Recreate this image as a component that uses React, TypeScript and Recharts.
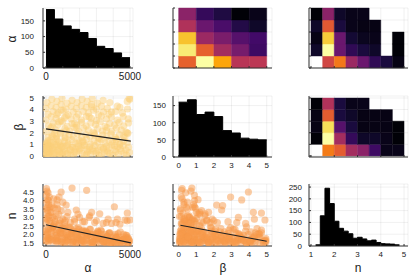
import React from "react";
import {
  ComposedChart, Area, Scatter, XAxis, YAxis, CartesianGrid, ReferenceArea,
} from "recharts";

const FONT = "'Liberation Sans', Arial, sans-serif";
const INK = "#222";
const AX = "#333";

/* -------- 1-D histograms: bin edges + counts -------- */
const alphaEdges = [0, 500, 1000, 1500, 2000, 2500, 3000, 3500, 4000, 4500, 5000];
const alphaCounts = [186, 156, 134, 123, 113, 94, 69, 62, 48, 33];
const betaEdges = [0, 0.5, 1, 1.5, 2, 2.5, 3, 3.5, 4, 4.5, 5];
const betaCounts = [160, 167, 124, 131, 118, 77, 70, 55, 52, 50];
const nEdges = [1.2, 1.4, 1.6, 1.8, 2, 2.2, 2.4, 2.6, 2.8, 3, 3.2, 3.4, 3.6, 3.8, 4, 4.2, 4.4, 4.6, 4.8];
const nCounts = [5, 128, 245, 180, 105, 75, 63, 52, 33, 37, 30, 22, 25, 15, 10, 9, 8, 5];

/* -------- 2-D histogram bins + relative density (rows bottom -> top, null = empty) -------- */
const alphaBins = [0, 1000, 2000, 3000, 4000, 5000];
const betaBins = [0, 1, 2, 3, 4, 5];
const nBins = [1, 1.5, 2, 2.5, 3, 3.5, 4, 4.5, 5];

const hAlphaBeta = [
  [0.64, 1.0, 0.8, 0.49, 0.5],
  [0.95, 0.64, 0.44, 0.33, 0.19],
  [0.86, 0.42, 0.34, 0.25, 0.2],
  [0.47, 0.3, 0.22, 0.13, 0.07],
  [0.38, 0.17, 0.12, 0.005, 0.04],
];
const hAlphaN = [
  [null, 0.56, 0.7, 0.42, 0.3, 0.16, 0.11, 0.03],
  [0.07, 1.0, 0.3, 0.16, 0.11, 0.07, null, 0.005],
  [0.03, 0.88, 0.3, 0.09, 0.05, 0.04, null, 0.005],
  [0.07, 0.62, 0.11, 0.04, 0.03, 0.03, null, null],
  [0.005, 0.38, 0.07, 0.04, 0.04, null, null, null],
];
const hBetaN = [
  [null, 0.71, 0.63, 0.44, 0.38, 0.19, 0.04, 0.04],
  [0.005, 1.0, 0.44, 0.17, 0.07, 0.07, 0.04, 0.005],
  [0.03, 0.92, 0.25, 0.11, 0.03, 0.03, 0.03, 0.005],
  [0.03, 0.63, 0.11, 0.07, 0.03, 0.03, 0.03, null],
  [0.005, 0.47, 0.11, 0.04, 0.04, null, null, null],
];

/* -------- samples [alpha, beta, n] -------- */
const samples: [number, number, number][] = [
  // beta 0 - 0.5
  [0, 0.1, 1.6], [150, 0.3, 2.3], [320, 0.45, 1.9], [480, 0.2, 2.6], [640, 0.05, 1.75], [800, 0.38, 2.15],
  [980, 0.15, 1.55], [1150, 0.42, 2.45], [1300, 0.25, 1.85], [1480, 0.08, 2.05], [1650, 0.1, 1.65],
  [1800, 0.3, 2.35], [1980, 0.45, 1.7], [2150, 0.2, 2.2], [2300, 0.05, 1.5], [2480, 0.38, 1.95],
  [2650, 0.15, 2.3], [2800, 0.42, 1.6], [2980, 0.25, 2.05], [3150, 0.08, 1.75], [3300, 0.1, 2.2],
  [3480, 0.3, 1.55], [3650, 0.45, 1.9], [3800, 0.2, 2.1], [3980, 0.05, 1.6], [4150, 0.38, 1.8],
  [4300, 0.15, 2.05], [4480, 0.42, 1.5], [4650, 0.25, 1.75], [4800, 0.08, 1.95], [4980, 0.3, 1.6],
  // beta 0.5 - 1
  [80, 0.6, 2.1], [250, 0.85, 1.7], [420, 0.7, 2.45], [600, 0.95, 1.95], [760, 0.55, 2.55], [920, 0.78, 1.6],
  [1100, 0.65, 2.25], [1250, 0.9, 1.8], [1420, 0.52, 2.4], [1600, 0.75, 1.55], [1750, 0.6, 2.0],
  [1920, 0.85, 2.4], [2100, 0.7, 1.65], [2260, 0.95, 2.15], [2420, 0.55, 1.85], [2600, 0.78, 2.3],
  [2760, 0.65, 1.55], [2920, 0.9, 2.0], [3100, 0.52, 1.7], [3260, 0.75, 2.25], [3420, 0.6, 1.8],
  [3600, 0.85, 1.5], [3760, 0.7, 2.1], [3920, 0.95, 1.65], [4100, 0.55, 1.9], [4260, 0.78, 1.55],
  [4420, 0.65, 2.15], [4600, 0.9, 1.7], [4760, 0.52, 1.85], [4920, 0.75, 1.5],
  // beta 1 - 1.5
  [0, 1.1, 2.2], [220, 1.35, 1.8], [440, 1.2, 2.5], [660, 1.45, 1.6], [880, 1.05, 2.05], [1100, 1.3, 2.35],
  [1320, 1.15, 1.7], [1540, 1.4, 2.15], [1760, 1.1, 1.5], [1980, 1.35, 1.95], [2200, 1.2, 2.25],
  [2420, 1.45, 1.65], [2640, 1.05, 2.0], [2860, 1.3, 1.55], [3080, 1.15, 2.2], [3300, 1.4, 1.75],
  [3520, 1.1, 1.6], [3740, 1.35, 2.05], [3960, 1.2, 1.5], [4180, 1.45, 1.85], [4400, 1.05, 1.65],
  [4620, 1.3, 2.0], [4840, 1.15, 1.55],
  // beta 1.5 - 2
  [120, 1.6, 1.75], [370, 1.85, 2.4], [620, 1.7, 1.55], [870, 1.95, 2.1], [1120, 1.55, 1.85],
  [1370, 1.8, 2.45], [1620, 1.65, 1.6], [1870, 1.9, 2.0], [2120, 1.6, 1.7], [2370, 1.85, 2.2],
  [2620, 1.7, 1.5], [2870, 1.95, 1.9], [3120, 1.55, 2.1], [3370, 1.8, 1.6], [3620, 1.65, 1.8],
  [3870, 1.9, 1.55], [4120, 1.6, 2.0], [4370, 1.85, 1.7], [4620, 1.7, 1.5], [4870, 1.95, 1.8],
  // beta 2 - 2.5
  [0, 2.1, 1.9], [280, 2.4, 2.35], [560, 2.25, 1.65], [840, 2.05, 2.2], [1120, 2.35, 1.5], [1400, 2.15, 2.0],
  [1680, 2.45, 1.75], [1960, 2.1, 2.3], [2240, 2.4, 1.6], [2520, 2.25, 1.95], [2800, 2.05, 1.55],
  [3080, 2.35, 2.15], [3360, 2.15, 1.7], [3640, 2.45, 1.9], [3920, 2.1, 1.5], [4200, 2.4, 1.8],
  [4480, 2.25, 1.6], [4760, 2.05, 1.95],
  // beta 2.5 - 3
  [150, 2.6, 1.6], [430, 2.85, 2.25], [710, 2.7, 1.85], [990, 2.95, 2.4], [1270, 2.55, 1.65],
  [1550, 2.8, 2.05], [1830, 2.65, 1.5], [2110, 2.9, 1.9], [2390, 2.6, 2.15], [2670, 2.85, 1.6],
  [2950, 2.7, 1.8], [3230, 2.95, 1.55], [3510, 2.55, 2.0], [3790, 2.8, 1.7], [4070, 2.65, 1.55],
  [4350, 2.9, 1.85], [4630, 2.6, 1.6], [4910, 2.85, 1.75],
  // beta 3 - 3.5
  [0, 3.1, 2.3], [300, 3.4, 1.7], [600, 3.25, 2.1], [900, 3.05, 1.55], [1200, 3.45, 1.95], [1500, 3.2, 2.3],
  [1800, 3.35, 1.6], [2100, 3.1, 1.85], [2400, 3.4, 2.05], [2700, 3.25, 1.5], [3000, 3.05, 1.75],
  [3300, 3.45, 2.0], [3600, 3.2, 1.6], [3900, 3.35, 1.8], [4250, 3.1, 1.55], [4600, 3.4, 1.7], [4900, 3.2, 1.5],
  // beta 3.5 - 4
  [120, 3.6, 1.8], [420, 3.85, 2.45], [720, 3.7, 1.65], [1020, 3.95, 2.0], [1320, 3.55, 1.55],
  [1620, 3.8, 2.2], [1920, 3.6, 1.75], [2220, 3.85, 1.5], [2520, 3.7, 1.95], [2820, 3.95, 1.6],
  [3120, 3.55, 1.85], [3420, 3.8, 1.55], [3750, 3.6, 1.7], [4150, 3.85, 1.5], [4550, 3.7, 1.65],
  // beta 4 - 4.5
  [0, 4.1, 1.65], [300, 4.35, 2.1], [600, 4.2, 1.8], [900, 4.45, 2.35], [1200, 4.05, 1.6], [1500, 4.3, 1.9],
  [1800, 4.1, 2.15], [2100, 4.35, 1.55], [2400, 4.2, 1.75], [2700, 4.45, 2.0], [3000, 4.05, 1.5],
  [3300, 4.3, 1.8], [3650, 4.1, 1.6], [4400, 4.2, 1.55], [4850, 4.05, 1.7],
  // beta 4.5 - 5
  [60, 4.6, 2.0], [350, 4.9, 1.6], [650, 4.7, 2.25], [950, 4.95, 1.75], [1250, 4.55, 2.05], [1550, 4.8, 1.5],
  [1850, 4.6, 1.85], [2150, 4.9, 1.65], [2450, 4.7, 2.1], [2750, 4.95, 1.55], [3050, 4.55, 1.8],
  [3400, 4.8, 1.6], [3800, 4.6, 1.5], [4950, 4.95, 1.65],
  // high-n tail, mostly small alpha / beta
  [30, 0.2, 4.7], [60, 0.7, 4.55], [120, 0.4, 4.45], [20, 0.9, 4.3], [200, 0.15, 4.2], [80, 1.1, 4.05],
  [40, 0.5, 3.9], [160, 0.3, 3.75], [250, 0.8, 3.6], [10, 0.1, 3.5], [100, 1.3, 3.4], [60, 0.25, 3.25],
  [180, 0.6, 3.1], [30, 1.0, 2.95], [220, 0.35, 2.8], [120, 0.05, 3.05], [280, 1.2, 3.3], [70, 0.45, 3.6],
  [150, 0.9, 4.0], [10, 0.6, 2.7], [240, 0.15, 2.65], [90, 0.75, 2.85],
  [1550, 0.75, 4.73], [2420, 0.17, 4.6], [770, 2.95, 4.2], [650, 3.58, 4.03], [900, 3.96, 4.5],
  [1200, 2.16, 3.73], [1800, 2.44, 3.44], [3200, 1.5, 3.22], [2715, 4.24, 3.3], [4070, 0.9, 3.63],
  [4840, 4.7, 3.26], [4250, 4.3, 2.9], [4700, 1.6, 2.85], [2570, 3.39, 3.0], [500, 1.9, 2.9],
  [1000, 0.3, 3.9], [1300, 1.0, 3.3], [700, 0.5, 3.5], [600, 1.5, 3.1], [2000, 0.6, 3.0],
  [1700, 2.8, 2.75], [350, 2.5, 3.7], [450, 0.2, 4.1], [850, 0.9, 2.8], [2200, 1.3, 2.75],
  [3000, 0.4, 2.8], [3600, 2.2, 2.7], [1100, 3.3, 2.7], [5000, 4.9, 2.85], [3900, 3.8, 2.65],
  [400, 0.6, 3.0], [550, 0.3, 2.75], [750, 1.2, 3.2], [1000, 0.8, 2.9], [1250, 0.15, 3.05],
  [1450, 0.55, 2.7], [900, 0.1, 3.4], [650, 0.85, 3.75], [1700, 0.35, 2.9], [2300, 0.9, 2.75],
  [1900, 1.1, 3.2], [350, 1.7, 3.3], [500, 0.95, 3.55], [800, 0.2, 2.65], [1150, 1.6, 2.8],
  [2600, 0.5, 3.1], [3400, 0.7, 2.65], [2900, 1.8, 2.7], [3700, 0.3, 2.9], [4400, 1.0, 2.6],
  [4830, 2.0, 2.8], [4170, 1.4, 2.7],
];

/* -------- fitted lines (end points) -------- */
const fitAlphaBeta = [{ x: 0, y: 2.33 }, { x: 5050, y: 1.28 }];
const fitAlphaN = [{ x: 0, y: 2.57 }, { x: 5050, y: 1.5 }];
const fitBetaN = [{ x: 0.1, y: 2.54 }, { x: 5, y: 1.6 }];

/* -------- ticks -------- */
const alphaTicks = [0, 1000, 2000, 3000, 4000, 5000];
const betaTicks = [0, 1, 2, 3, 4, 5];
const nTicks = [1, 2, 3, 4, 5];
const nYTicks = [1.5, 2, 2.5, 3, 3.5, 4, 4.5];
const countTicks = [0, 50, 100, 150];
const nCountTicks = [0, 50, 100, 150, 200, 250];

/* -------- layout -------- */
const COL1 = { l: 43, r: 133 };
const COL2 = { l: 173, r: 272 };
const COL3 = { l: 309, r: 408 };
const ROW1 = { t: 8, b: 68 };
const ROW2 = { t: 96, b: 157 };
const ROW3 = { t: 184, b: 246 };

const alphaDom: [number, number] = [-180, 5180];
const betaDom: [number, number] = [-0.32, 5.3];
const nDom: [number, number] = [0.914, 5.17];
const betaYDom: [number, number] = [-0.09, 5.17];
const nYDom: [number, number] = [1.32, 4.97];

const INFERNO = ["#000004", "#160b39", "#420a68", "#6a176e", "#932667", "#bc3754",
  "#dd513a", "#f37819", "#fca50a", "#f6d746", "#fcffa4"];

function hexRgb(h: string) {
  return [1, 3, 5].map(i => parseInt(h.slice(i, i + 2), 16));
}
function inferno(v: number) {
  const t = Math.max(0, Math.min(1, v)) * (INFERNO.length - 1);
  const i = Math.min(Math.floor(t), INFERNO.length - 2);
  const f = t - i;
  const a = hexRgb(INFERNO[i]), b = hexRgb(INFERNO[i + 1]);
  const c = a.map((ai, k) => Math.round(ai + (b[k] - ai) * f));
  return `rgb(${c[0]},${c[1]},${c[2]})`;
}

const steps = (edges: number[], counts: number[]) =>
  edges.map((x, i) => ({ x, y: counts[Math.min(i, counts.length - 1)] }));

const fmtNum = (v: number) => String(v);
const fmtOne = (v: number) => v.toFixed(1);
const fmtEnds = (v: number) => (v === 0 || v === 5000 ? String(v) : "");
const none = () => "";

function cells(grid: (number | null)[][], xe: number[], ye: number[], key: string) {
  const out: React.ReactNode[] = [];
  grid.forEach((row, j) =>
    row.forEach((v, i) => {
      if (v == null) return;
      const c = inferno(v);
      out.push(
        <ReferenceArea key={`${key}-${i}-${j}`} x1={xe[i]} x2={xe[i + 1]} y1={ye[j]} y2={ye[j + 1]}
          fill={c} fillOpacity={1} stroke={c} strokeWidth={0.4} ifOverflow="visible" />
      );
    })
  );
  return out;
}
const centers = (xe: number[], ye: number[]) =>
  ye.slice(1).flatMap((y, j) => xe.slice(1).map((x, i) => ({ x: (xe[i] + x) / 2, y: (ye[j] + y) / 2 })));

const PL = 40, PR = 12, PT = 4, PB = 22;

function Panel(props: any) {
  const { col, row, xDomain, yDomain, xTicks, yTicks, xFmt, yFmt, xFont = 8, yGap = 7, data, children } = props;
  const w = col.r - col.l + PL + PR;
  const h = row.b - row.t + PT + PB;
  return (
    <div style={{ position: "absolute", left: col.l - PL, top: row.t - PT }}>
      <ComposedChart width={w} height={h} data={data} margin={{ top: PT, right: PR, bottom: 0, left: 0 }}>
        <CartesianGrid stroke="#000" strokeOpacity={0.1} strokeWidth={0.6} />
        <XAxis type="number" dataKey="x" domain={xDomain} ticks={xTicks} interval={0} allowDataOverflow
          height={PB} tickFormatter={xFmt} tick={{ fontSize: xFont, fill: INK, fontFamily: FONT }}
          axisLine={{ stroke: AX }} tickLine={{ stroke: AX }} tickSize={-2} tickMargin={7} />
        <YAxis type="number" dataKey="y" domain={yDomain} ticks={yTicks} interval={0} allowDataOverflow
          width={PL} tickFormatter={yFmt} tick={{ fontSize: 8, fill: INK, fontFamily: FONT }}
          axisLine={{ stroke: AX }} tickLine={{ stroke: AX }} tickSize={-2} tickMargin={yGap + 2} />
        {children}
      </ComposedChart>
    </div>
  );
}

const dot = (color: string) => (p: any) =>
  <circle cx={p.cx} cy={p.cy} r={3.6} fill={color} fillOpacity={0.5} />;
const hidden = () => <g />;
const FIT = { stroke: "#222", strokeWidth: 1.2 };

function Label({ x, y, text, rotate }: { x: number; y: number; text: string; rotate?: boolean }) {
  return (
    <div style={{
      position: "absolute", left: x, top: y, fontSize: 12, lineHeight: 1, color: INK, fontFamily: FONT,
      transform: `translate(-50%, -50%)${rotate ? " rotate(-90deg)" : ""}`, whiteSpace: "nowrap",
    }}>{text}</div>
  );
}

export default function App() {
  const ab = samples.map(([a, b]) => ({ x: a, y: b }));
  const an = samples.map(([a, , n]) => ({ x: a, y: n }));
  const bn = samples.map(([, b, n]) => ({ x: b, y: n }));
  const YEL = "#fccf7a";
  const ORA = "#f89a4a";

  return (
    <div style={{ position: "absolute", left: 0, top: 0, width: 415, height: 277, background: "#fff", overflow: "hidden", fontFamily: FONT }}>
      {/* row 1 */}
      <Panel col={COL1} row={ROW1} xDomain={alphaDom} yDomain={[0, 191]} xTicks={alphaTicks} yTicks={countTicks}
        xFmt={fmtEnds} yFmt={fmtNum} xFont={10} yGap={9} data={steps(alphaEdges, alphaCounts)}>
        <Area type="stepAfter" dataKey="y" stroke="#000" strokeWidth={1} fill="#000" fillOpacity={1} baseValue={0} isAnimationActive={false} />
      </Panel>
      <Panel col={COL2} row={ROW1} xDomain={betaDom} yDomain={[0, 5000]} xTicks={betaTicks} yTicks={alphaTicks}
        xFmt={none} yFmt={none}>
        <Scatter data={centers(betaBins, alphaBins)} shape={hidden} isAnimationActive={false} />
        {cells(hAlphaBeta, betaBins, alphaBins, "ab")}
      </Panel>
      <Panel col={COL3} row={ROW1} xDomain={nDom} yDomain={[0, 5000]} xTicks={nTicks} yTicks={alphaTicks}
        xFmt={none} yFmt={none}>
        <Scatter data={centers(nBins, alphaBins)} shape={hidden} isAnimationActive={false} />
        {cells(hAlphaN, nBins, alphaBins, "an")}
      </Panel>

      {/* row 2 */}
      <Panel col={COL1} row={ROW2} xDomain={alphaDom} yDomain={betaYDom} xTicks={alphaTicks} yTicks={betaTicks}
        xFmt={none} yFmt={fmtNum} yGap={9}>
        <Scatter data={ab} shape={dot(YEL)} isAnimationActive={false} />
        <Scatter data={fitAlphaBeta} line={FIT} shape={hidden} isAnimationActive={false} />
      </Panel>
      <Panel col={COL2} row={ROW2} xDomain={betaDom} yDomain={[0, 178]} xTicks={betaTicks} yTicks={countTicks}
        xFmt={fmtNum} yFmt={fmtNum} data={steps(betaEdges, betaCounts)}>
        <Area type="stepAfter" dataKey="y" stroke="#000" strokeWidth={1} fill="#000" fillOpacity={1} baseValue={0} isAnimationActive={false} />
      </Panel>
      <Panel col={COL3} row={ROW2} xDomain={nDom} yDomain={betaYDom} xTicks={nTicks} yTicks={betaTicks}
        xFmt={none} yFmt={none}>
        <Scatter data={centers(nBins, betaBins)} shape={hidden} isAnimationActive={false} />
        {cells(hBetaN, nBins, betaBins, "bn")}
      </Panel>

      {/* row 3 */}
      <Panel col={COL1} row={ROW3} xDomain={alphaDom} yDomain={nYDom} xTicks={alphaTicks} yTicks={nYTicks}
        xFmt={fmtEnds} yFmt={fmtOne} xFont={10} yGap={9}>
        <Scatter data={an} shape={dot(ORA)} isAnimationActive={false} />
        <Scatter data={fitAlphaN} line={FIT} shape={hidden} isAnimationActive={false} />
      </Panel>
      <Panel col={COL2} row={ROW3} xDomain={betaDom} yDomain={nYDom} xTicks={betaTicks} yTicks={nYTicks}
        xFmt={fmtNum} yFmt={none}>
        <Scatter data={bn} shape={dot(ORA)} isAnimationActive={false} />
        <Scatter data={fitBetaN} line={FIT} shape={hidden} isAnimationActive={false} />
      </Panel>
      <Panel col={COL3} row={ROW3} xDomain={nDom} yDomain={[0, 263]} xTicks={nTicks} yTicks={nCountTicks}
        xFmt={fmtNum} yFmt={fmtNum} data={steps(nEdges, nCounts)}>
        <Area type="stepAfter" dataKey="y" stroke="#000" strokeWidth={1} fill="#000" fillOpacity={1} baseValue={0} isAnimationActive={false} />
      </Panel>

      {/* axis titles */}
      <Label x={12} y={39} text="α" rotate />
      <Label x={19} y={127} text="β" rotate />
      <Label x={12} y={216} text="n" rotate />
      <Label x={88} y={268} text="α" />
      <Label x={223} y={268} text="β" />
      <Label x={358} y={268} text="n" />
    </div>
  );
}
